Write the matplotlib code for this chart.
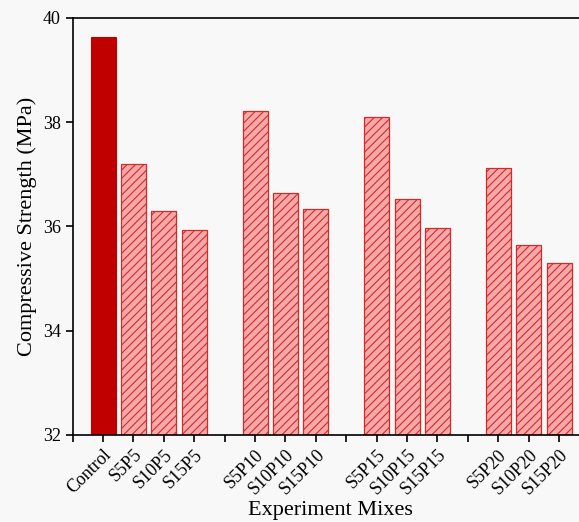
import matplotlib.pyplot as plt

# mixes and compressive strength (MPa)
mixes = ["Control", "S5P5", "S10P5", "S15P5",
         "S5P10", "S10P10", "S15P10",
         "S5P15", "S10P15", "S15P15",
         "S5P20", "S10P20", "S15P20"]
strength = [39.64, 37.19, 36.29, 35.94,
            38.22, 36.64, 36.33,
            38.09, 36.53, 35.97,
            37.12, 35.64, 35.30]
# slot of each bar on the x axis (gaps between groups)
slots = [1, 2, 3, 4, 6, 7, 8, 10, 11, 12, 14, 15, 16]

plt.rcParams['font.family'] = ['Liberation Serif', 'DejaVu Serif']
plt.rcParams['hatch.linewidth'] = 0.8

fig = plt.figure(figsize=(5.79, 5.22), dpi=100, facecolor='#f8f8f8')
ax = fig.add_axes([0.1255, 0.1667, 0.89, 0.799])
ax.set_facecolor('#f8f8f8')

for s, v, name in zip(slots, strength, mixes):
    if name == "Control":
        ax.bar(s, v - 32, bottom=32, width=0.82, color='#c00000',
               edgecolor='#c00000', linewidth=0.8)
    else:
        ax.bar(s, v - 32, bottom=32, width=0.82, facecolor='#f7a8a8',
               edgecolor='#d42a2a', hatch='////', linewidth=0.9)

ax.set_ylim(32, 40)
ax.set_yticks([32, 34, 36, 38, 40])
ax.set_xlim(0, 16.95)
ax.set_xticks(range(17))
labels = [''] * 17
for s, name in zip(slots, mixes):
    labels[s] = name
ax.set_xticklabels(labels, rotation=45, ha='right', rotation_mode='anchor')

ax.tick_params(direction='out', length=5, width=1.2, labelsize=13)
ax.tick_params(axis='x', pad=3)
for side in ['left', 'bottom', 'top']:
    ax.spines[side].set_linewidth(1.2)
ax.spines['right'].set_visible(False)

ax.set_ylabel('Compressive Strength (MPa)', fontsize=16)
ax.set_xlabel('Experiment Mixes', fontsize=16, labelpad=2)

fig.savefig('out.png', dpi=100, facecolor=fig.get_facecolor())
